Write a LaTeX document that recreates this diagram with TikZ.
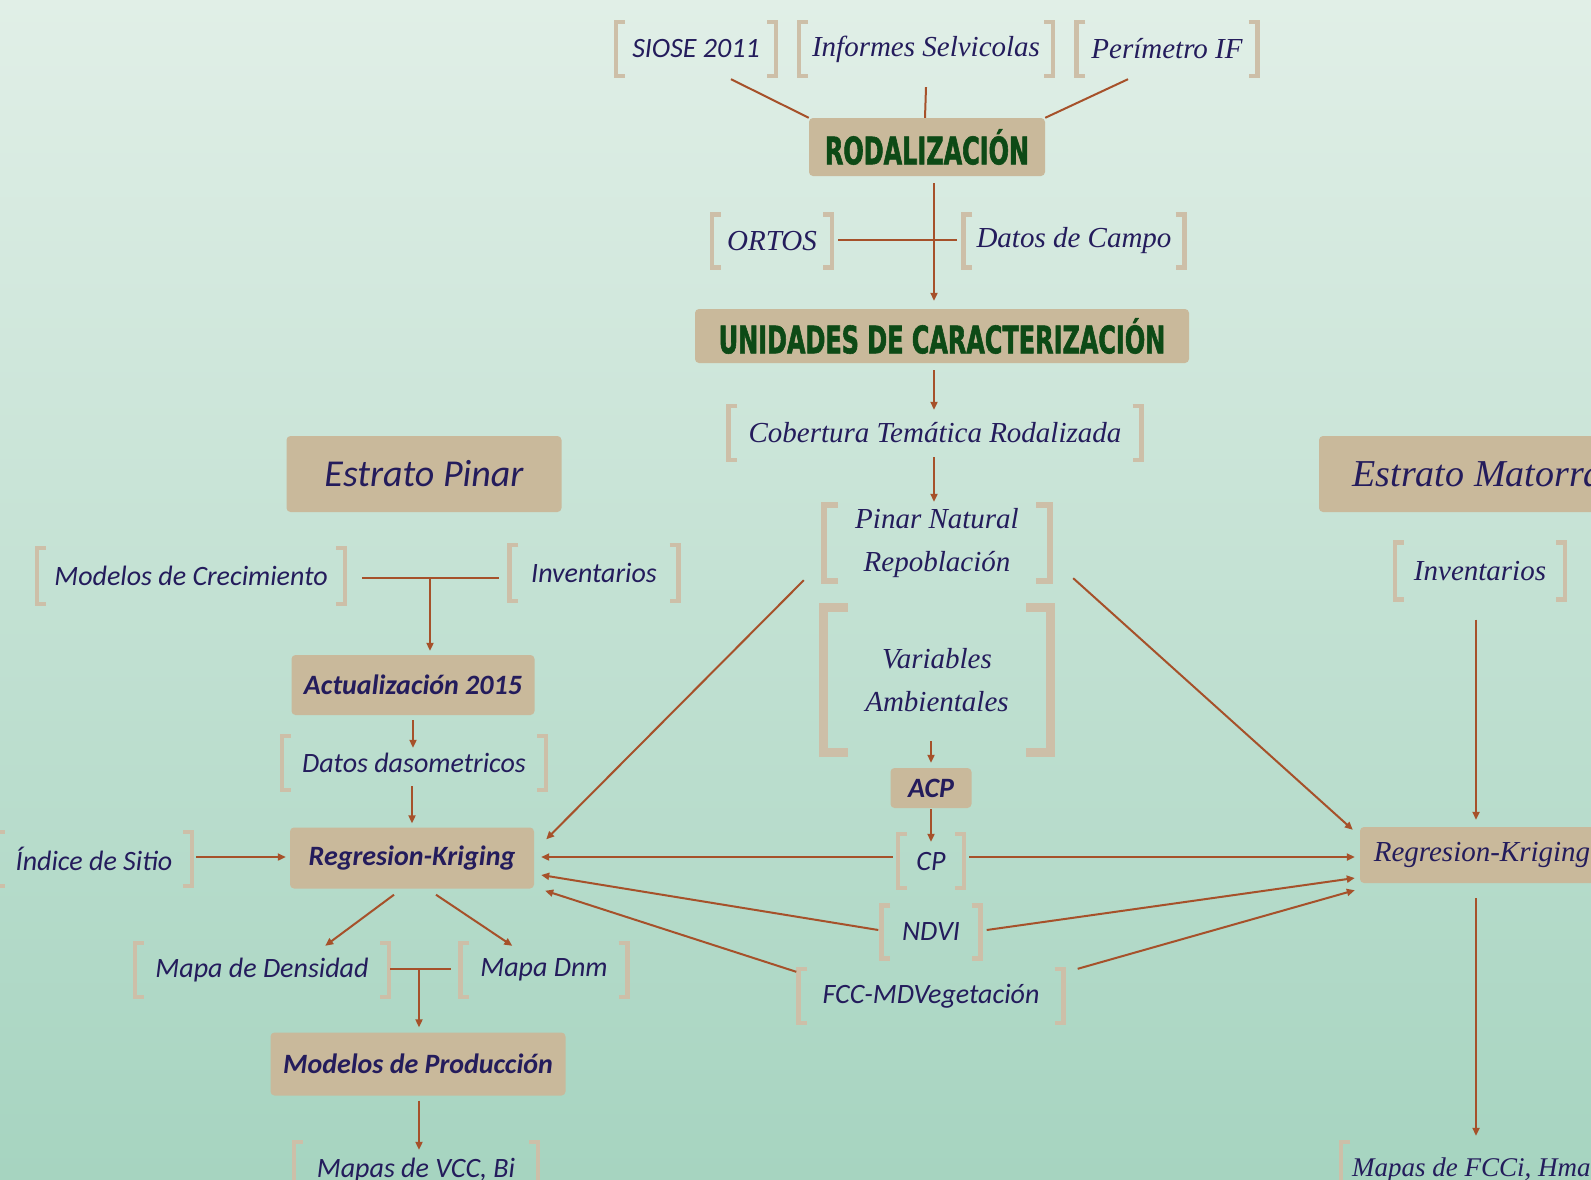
\documentclass[tikz,border=0pt]{standalone}
\usepackage{fontspec}
\setmainfont{Carlito}
\newfontfamily\serifit{Liberation Serif}
\newfontfamily\headfont{DejaVu Sans}[FakeStretch=0.63,FakeBold=1.5]
\usetikzlibrary{arrows.meta,calc}
\definecolor{bgtop}{HTML}{E1EFE7}
\definecolor{bgbot}{HTML}{A6D4C0}
\definecolor{boxc}{HTML}{C9B99B}
\definecolor{brkc}{HTML}{CDBFA8}
\definecolor{txtc}{HTML}{241C5C}
\definecolor{headc}{HTML}{0D4A16}
\definecolor{lnc}{HTML}{A6512A}
\tikzset{
  bsz/.style 2 args={minimum width=#1pt, minimum height=#2pt},
  lbl/.style={text=txtc, font=\fontsize{28}{43}\selectfont\itshape, align=center, inner sep=0pt},
  slbl/.style={text=txtc, font=\serifit\fontsize{29}{43}\selectfont\itshape, align=center, inner sep=0pt},
  box/.style={fill=boxc, rounded corners=4pt, text=txtc, font=\fontsize{28}{34}\selectfont\bfseries\itshape, inner sep=0pt},
  headbox/.style={fill=boxc, rounded corners=4pt, text=headc, font=\headfont\bfseries\fontsize{38}{40}\selectfont, inner sep=0pt},
  brkline/.style={draw=brkc, line width=4.5pt, line join=miter},
  ln/.style={draw=lnc, line width=2pt},
  arr/.style={ln, -{Triangle[length=8pt,width=7pt]}}
}
\begin{document}
\begin{tikzpicture}[x=1pt,y=-1pt]
\useasboundingbox (0,0) rectangle (1591,1179);
\clip (0,0) rectangle (1591,1179);
\shade[top color=bgtop, bottom color=bgbot] (0,0) rectangle (1591,1179);

% top sources
\node[lbl, bsz={160}{54}] (siose) at (696,49) {SIOSE 2011};
\node[slbl, bsz={254}{54}] (informes) at (926,49) {Informes Selvicolas};
\node[slbl, bsz={181}{54}] (perim) at (1167,49) {Perímetro IF};
\node[headbox, bsz={236}{58}] (rodal) at (927,147) {RODALIZACIÓN};
\node[slbl, bsz={120}{53}] (ortos) at (772,241) {ORTOS};
\node[slbl, bsz={221}{53}] (datos) at (1074,241) {Datos de Campo};
\node[headbox, bsz={494}{54}] (unid) at (942,336) {UNIDADES DE CARACTERIZACIÓN};
\node[slbl, bsz={413}{54}] (cobert) at (935,433) {Cobertura Temática Rodalizada};
\node[slbl, bsz={226}{76}] (pinar) at (937,543) {Pinar Natural\\Repoblación};
\node[slbl, bsz={226}{144}] (vars) at (937,680) {Variables\\Ambientales};
\node[box, bsz={81}{40}] (acp) at (931,788) {ACP};
\node[lbl, bsz={66}{54}] (cp) at (931,861) {CP};
\node[lbl, bsz={99}{53}] (ndvi) at (931,932) {NDVI};
\node[lbl, bsz={265}{54}] (fcc) at (931,996) {FCC-MDVegetación};

% left branch
\node[box, bsz={275}{76}, font=\fontsize{38}{40}\selectfont\itshape] (estP) at (424,474) {Estrato Pinar};
\node[lbl, bsz={308}{56}] (modC) at (191,576) {Modelos de Crecimiento};
\node[lbl, bsz={169}{56}] (invL) at (594,573) {Inventarios};
\node[box, bsz={243}{60}] (act) at (413,685) {Actualización 2015};
\node[lbl, bsz={264}{54}] (dasom) at (414,763) {Datos dasometricos};
\node[box, bsz={244}{61}] (rkL) at (412,858) {Regresion-Kriging};
\node[lbl, bsz={196}{54}] (indice) at (94,859) {Índice de Sitio};
\node[lbl, bsz={254}{54}] (mapDen) at (262,970) {Mapa de Densidad};
\node[lbl, bsz={167}{54}] (mapDnm) at (544,970) {Mapa Dnm};
\node[box, bsz={295}{63}] (modP) at (418,1064) {Modelos de Producción};
\node[lbl, bsz={244}{56}] (mapVCC) at (416,1170) {Mapas de VCC, Bi};

% right branch
\node[box, bsz={328}{76}, font=\serifit\fontsize{38}{40}\selectfont\itshape] (estM) at (1483,474) {Estrato Matorral};
\node[slbl, bsz={170}{57}] (invR) at (1480,571) {Inventarios};
\node[box, bsz={244}{56}, font=\serifit\fontsize{29}{34}\selectfont\itshape] (rkR) at (1482,855) {Regresion-Kriging};
\node[slbl, font=\serifit\fontsize{27}{34}\selectfont\itshape, minimum height=56pt, inner xsep=11pt, anchor=west] (mapFCC) at (1341,1170) {Mapas de FCCi, Hma};

% brackets
\foreach \n in {siose,informes,perim,ortos,datos,cobert,cp,ndvi,fcc,modC,invL,dasom,indice,mapDen,mapDnm,mapVCC,invR,mapFCC}{
  \draw[brkline] ([xshift=9pt]\n.north west) -- (\n.north west) -- (\n.south west) -- ([xshift=9pt]\n.south west);
  \draw[brkline] ([xshift=-9pt]\n.north east) -- (\n.north east) -- (\n.south east) -- ([xshift=-9pt]\n.south east);
}
\draw[brkline, line width=6pt] ([xshift=14pt]pinar.north west) -- (pinar.north west) -- (pinar.south west) -- ([xshift=14pt]pinar.south west);
\draw[brkline, line width=6pt] ([xshift=-14pt]pinar.north east) -- (pinar.north east) -- (pinar.south east) -- ([xshift=-14pt]pinar.south east);
\draw[brkline, line width=9pt] ([xshift=24pt]vars.north west) -- (vars.north west) -- (vars.south west) -- ([xshift=24pt]vars.south west);
\draw[brkline, line width=9pt] ([xshift=-24pt]vars.north east) -- (vars.north east) -- (vars.south east) -- ([xshift=-24pt]vars.south east);

% top connectors
\draw[ln] ([shift={(35,3)}]siose.south) -- (rodal.north west);
\draw[ln] ([shift={(0,11)}]informes.south) -- ([shift={(-2,0)}]rodal.north);
\draw[ln] ([shift={(-39,3)}]perim.south) -- (rodal.north east);
\draw[arr] ([shift={(7,7)}]rodal.south) -- ([shift={(-8,-8)}]unid.north);
\draw[ln] ([shift={(6,-1)}]ortos.east) -- ([shift={(-6,-1)}]datos.west);
\draw[arr] ([shift={(-8,7)}]unid.south) -- ([shift={(-1,4)}]cobert.north);
\draw[arr] ([shift={(-1,-3)}]cobert.south) -- ([shift={(-3,-3)}]pinar.north);
\draw[arr] ([shift={(-6,-11)}]vars.south) -- ([shift={(0,-5)}]acp.north);
\draw[arr] ([shift={(0,1)}]acp.south) -- ([shift={(0,8)}]cp.north);

% to regression nodes
\draw[arr] ([shift={(-20,-1)}]pinar.south west) -- ([shift={(12,12)}]rkL.north east);
\draw[arr] ([shift={(23,-3)}]pinar.south east) -- ([shift={(-7,3)}]rkR.north west);
\draw[arr] ([shift={(-5,-4)}]cp.west) -- ([shift={(7,-1)}]rkL.east);
\draw[arr] ([shift={(5,-4)}]cp.east) -- ([shift={(-5,2)}]rkR.west);
\draw[arr] ([shift={(-3,-2)}]ndvi.west) -- ([shift={(7,17)}]rkL.east);
\draw[arr] ([shift={(6,-2)}]ndvi.east) -- ([shift={(-5,23)}]rkR.west);
\draw[arr] ([shift={(-2,3)}]fcc.north west) -- ([shift={(11,2)}]rkL.south east);
\draw[arr] ([shift={(14,0)}]fcc.north east) -- ([shift={(-5,7)}]rkR.south west);

% left connectors
\draw[ln] ([shift={(17,2)}]modC.east) -- ([shift={(-10,5)}]invL.west);
\coordinate (tL) at (430,578);
\draw[arr] (tL) -- ([shift={(17,-4)}]act.north);
\draw[arr] ([shift={(0,5)}]act.south) -- ([shift={(-1,12)}]dasom.north);
\draw[arr] ([shift={(-2,-4)}]dasom.south) -- ([shift={(0,-4)}]rkL.north);
\draw[arr] ([shift={(4,-2)}]indice.east) -- ([shift={(-4,-1)}]rkL.west);
\draw[arr] ([shift={(-18,6)}]rkL.south) -- ([shift={(-64,3)}]mapDen.north east);
\draw[arr] ([shift={(24,6)}]rkL.south) -- ([shift={(52,3)}]mapDnm.north west);
\draw[ln] ([shift={(1,-1)}]mapDen.east) -- ([shift={(-9,-1)}]mapDnm.west);
\coordinate (tM) at (419,969);
\draw[arr] (tM) -- ([shift={(1,-5)}]modP.north);
\draw[arr] ([shift={(1,5)}]modP.south) -- ([shift={(3,8)}]mapVCC.north);

% right connectors
\draw[arr] ([shift={(-4,20)}]invR.south) -- ([shift={(-6,-7)}]rkR.north);
\draw[arr] ([shift={(-6,15)}]rkR.south) -- ([shift={(135,-6)}]mapFCC.north west);
\end{tikzpicture}
\end{document}
